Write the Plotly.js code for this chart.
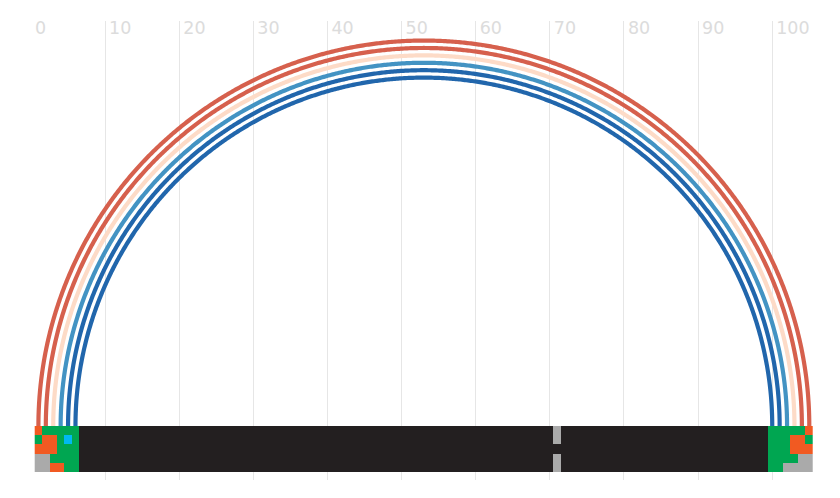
<!DOCTYPE html>
<html>
<head>
<meta charset="utf-8">
<script src="https://cdn.plot.ly/plotly-3.0.1.min.js"></script>
<style>html,body{margin:0;padding:0;background:#fff;}#chart{width:840px;height:498px;}</style>
</head>
<body>
<div id="chart"></div>
<script>
// Arc data: common centre and radii (x units), colours
var arcCenter = 53;
var arcRadii = [52, 51, 50, 49, 48, 47];
var arcColors = ['#d6604d', '#d6604d', '#fddbc7', '#4393c3', '#2166ac', '#2166ac'];

// Bottom strip: 5 rows x 105 columns, codes K=black G=green O=orange A=grey C=cyan
var leftBlock  = ['OGGGGG', 'GOOGCG', 'OOOGGG', 'AAGGGG', 'AAOOGG'];
var middleRows = [
  'K'.repeat(64) + 'A' + 'K'.repeat(28),
  'K'.repeat(64) + 'A' + 'K'.repeat(28),
  'K'.repeat(64) + 'K' + 'K'.repeat(28),
  'K'.repeat(64) + 'A' + 'K'.repeat(28),
  'K'.repeat(64) + 'A' + 'K'.repeat(28)
];
var rightBlock = ['GGGGGO', 'GGGOOG', 'GGGOOO', 'GGGGAA', 'GGAAAA'];
var codeValue = {K: 0, G: 1, O: 2, A: 3, C: 4};
var tickValues = [0, 10, 20, 30, 40, 50, 60, 70, 80, 90, 100];

var W = 840, H = 498;
var mL = 31, mR = 27, mT = 21, mB = 18;
var plotW = W - mL - mR, plotH = H - mT - mB;
var xMax = 105.5;
var k = plotW / xMax;          // px per unit
var baseY = 426;               // pixel row of arc base
var yMin = -(H - mB - baseY) / k;
var yMax = (baseY - mT) / k;

var traces = [];
arcRadii.forEach(function (r, i) {
  var xs = [], ys = [];
  for (var j = 0; j <= 720; j++) {
    var t = Math.PI * j / 720;
    xs.push(arcCenter + r * Math.cos(t));
    ys.push(r * Math.sin(t));
  }
  traces.push({
    type: 'scatter', mode: 'lines', x: xs, y: ys,
    line: {color: arcColors[i], width: 4.2, simplify: false},
    hoverinfo: 'skip', showlegend: false, xaxis: 'x', yaxis: 'y'
  });
});

var z = [], cols = [];
for (var c = 1; c <= 105; c++) cols.push(c);
for (var r = 0; r < 5; r++) {
  var s = leftBlock[r] + middleRows[r] + rightBlock[r];
  z.push(s.split('').map(function (ch) { return codeValue[ch]; }));
}
traces.push({
  type: 'heatmap', x: cols, y: [0, 1, 2, 3, 4], z: z,
  zmin: 0, zmax: 4, showscale: false, hoverinfo: 'skip',
  colorscale: [[0, '#231f20'], [0.25, '#00a651'], [0.5, '#f15a22'], [0.75, '#aaaaaa'], [1, '#00b9f1']],
  xaxis: 'x', yaxis: 'y2'
});

var stripBottom = 472, stripTop = 426;
var layout = {
  width: W, height: H,
  margin: {l: mL, r: mR, t: mT, b: mB, pad: 0},
  paper_bgcolor: '#ffffff', plot_bgcolor: '#ffffff',
  showlegend: false,
  xaxis: {
    range: [0, xMax], side: 'top', tickvals: tickValues,
    ticklabelposition: 'inside right', ticks: '',
    ticklabelstandoff: -5, ticklabelshift: 4,
    showgrid: true, gridcolor: '#e6e6e6', gridwidth: 1,
    zeroline: false, showline: false,
    tickfont: {family: 'DejaVu Sans, sans-serif', size: 17.5, color: '#dcdcdc'}
  },
  yaxis: {
    range: [yMin, yMax], visible: false, showgrid: false, zeroline: false
  },
  yaxis2: {
    domain: [(H - mB - stripBottom) / plotH, (H - mB - stripTop) / plotH],
    range: [4.5, -0.5], visible: false, showgrid: false, zeroline: false,
    anchor: 'x'
  }
};

Plotly.newPlot('chart', traces, layout, {displayModeBar: false, staticPlot: true});
</script>
</body>
</html>
